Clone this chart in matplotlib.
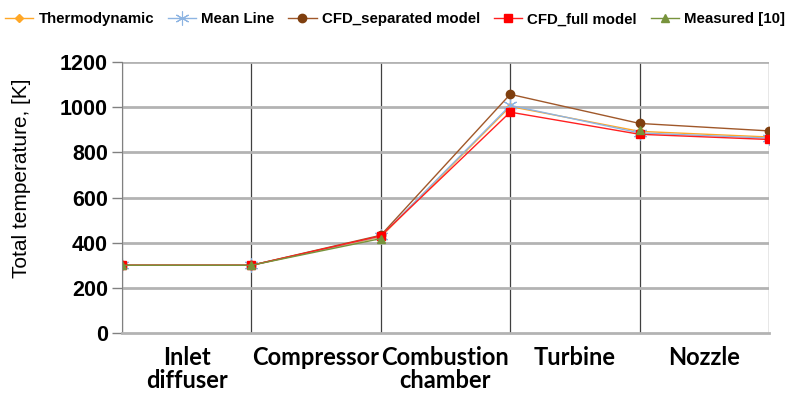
import numpy as np
import matplotlib.pyplot as plt

# ------ dados

stages = ["Inlet\ndiffuser", "Compressor", "Combustion\nchamber", "Turbine", "Nozzle"]
yticks = [0, 200, 400, 600, 800, 1000, 1200]

thermo = [300, 300, 425, 1003, 893, 868]
mean_line = [300, 300, 428, 1008, 886, 863]
cfd_sep = [300, 300, 433, 1057, 928, 895]
cfd_full = [300, 300, 430, 978, 880, 857]
measured = [300, 300, 418, np.nan, 897, np.nan]

# ------ figura

fig = plt.figure(figsize=(7.9, 3.96), dpi=100)
ax = fig.add_axes([0.1544, 0.159, 0.819, 0.6844])

x = np.arange(len(thermo))

ax.plot(x, thermo, color="#ffa726", lw=1, marker="D", ms=4, label="Thermodynamic")
ax.plot(x, mean_line, color="#8db4e2", lw=1, marker=(6, 2, 0), ms=10, mew=0.8, label="Mean Line")
ax.plot(x, cfd_sep, color="#a0582a", lw=1, marker="o", ms=6, mfc="#7f3f0f", mec="#7f3f0f", label="CFD_separated model")
ax.plot(x, cfd_full, color="#ff2020", lw=1, marker="s", ms=6, mfc="#ff0000", mec="#ff0000", label="CFD_full model")
ax.plot(x, measured, color="#77933c", lw=1, marker="^", ms=6, label="Measured [10]")

ax.set_xlim(0, 5)
ax.set_ylim(0, 1200)

# linhas verticais nas fronteiras dos estágios
for xi in x:
    ax.axvline(xi, color="#404040", lw=0.9, zorder=0)
for yv in yticks[1:]:
    ax.axhline(yv, color="#b3b3b3", lw=2, zorder=0)

ax.set_yticks(yticks)
ax.set_yticklabels([str(v) for v in yticks], fontweight="bold", fontsize=15.5, family="Liberation Sans")
ax.tick_params(axis="y", length=7, width=1, color="#808080", pad=3)

ax.set_xticks(x[:-1] + 0.5)
ax.set_xticklabels(stages, fontweight="bold", fontsize=17, family="Lato", va="top", linespacing=1.05)
ax.tick_params(axis="x", length=0, pad=9)

for s in ["top", "right"]:
    ax.spines[s].set_visible(False)
ax.spines["left"].set_color("#808080")
ax.spines["bottom"].set_color("#b3b3b3")
ax.spines["bottom"].set_linewidth(2)

ax.set_ylabel("Total temperature, [K]", fontsize=15, family="Liberation Sans")
ax.yaxis.set_label_coords(-0.14, 0.57)

fig.legend(loc="upper center", bbox_to_anchor=(0.5, 0.995), ncol=5, frameon=False,
           prop={"family": "Liberation Sans", "weight": "bold", "size": 10.8},
           handlelength=1.9, handletextpad=0.35, columnspacing=0.9, borderaxespad=0.3)

fig.savefig("out.png", dpi=100)
